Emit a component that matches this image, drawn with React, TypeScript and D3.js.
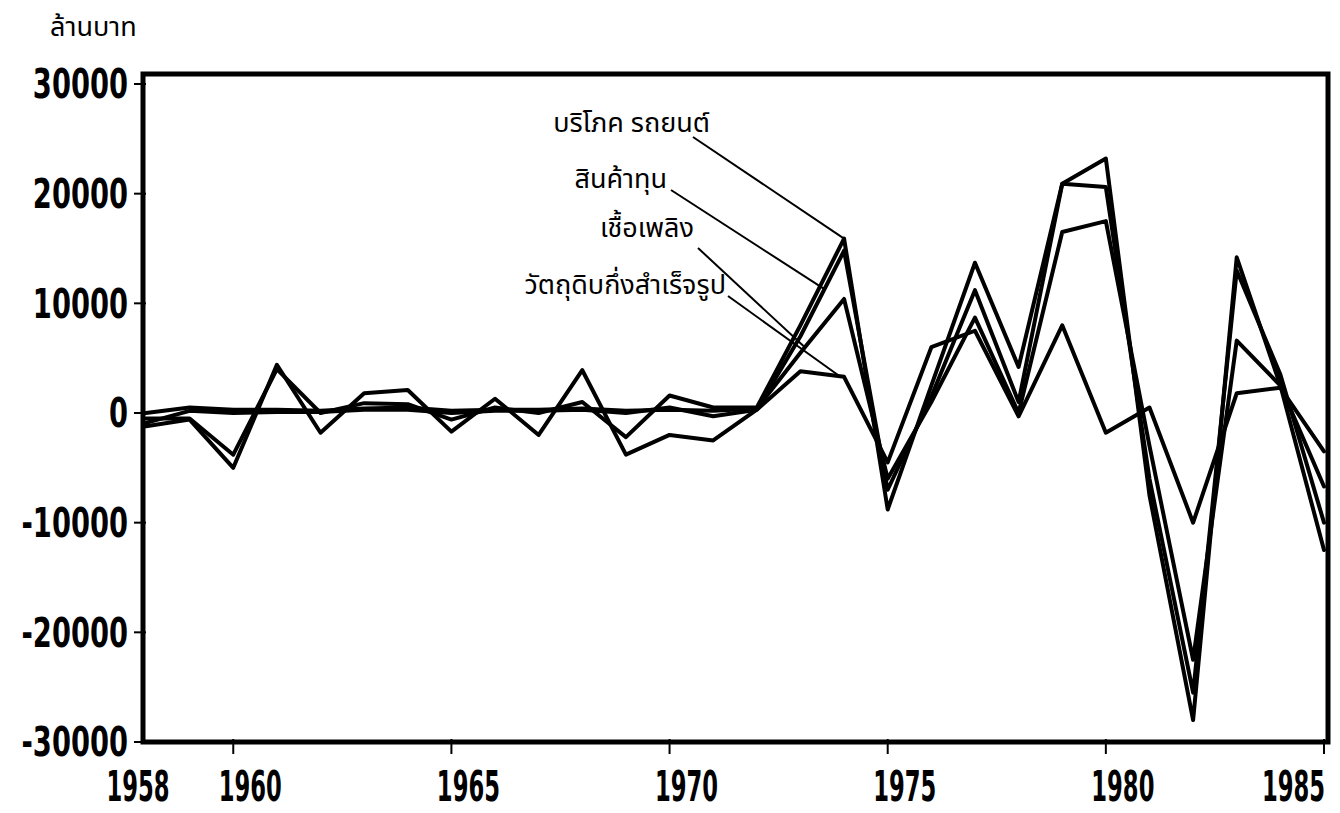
import React from "react";
import * as d3 from "d3";

const years = [1958, 1959, 1960, 1961, 1962, 1963, 1964, 1965, 1966, 1967, 1968, 1969, 1970, 1971, 1972, 1973, 1974, 1975, 1976, 1977, 1978, 1979, 1980, 1981, 1982, 1983, 1984, 1985];

const consumerCars = [-500, -500, -3800, 4000, 0, 900, 800, -600, 500, 0, 1000, -2200, 1600, 500, 500, 8000, 15900, -8800, 2500, 13700, 4200, 20900, 23200, -7500, -28000, 14200, 2500, -12500];
const capitalGoods = [-1200, -600, -5000, 4400, -1800, 1800, 2100, -1700, 1300, -2000, 3900, -3800, -2000, -2500, 300, 7000, 14800, -7000, 1500, 11200, 1000, 20900, 20600, -6000, -25500, 13000, 3500, -10000];
const fuel = [0, 500, 300, 300, 200, 400, 500, 200, 300, 300, 400, 200, 300, 200, 400, 5500, 10400, -6000, 1000, 8700, 0, 16500, 17500, -3000, -22500, 6600, 2500, -6700];
const rawMaterials = [-900, 200, 0, 100, 100, 300, 300, 0, 200, 200, 300, 0, 500, -300, 300, 3800, 3300, -4500, 6000, 7500, -300, 8000, -1800, 500, -10000, 1800, 2300, -3500];

const seriesNames = ["บริโภค รถยนต์", "สินค้าทุน", "เชื้อเพลิง", "วัตถุดิบกึ่งสำเร็จรูป"];
const seriesValues = [consumerCars, capitalGoods, fuel, rawMaterials];
// year on each series where its label's pointer line meets the curve
const pointerYears = [1974, 1973.55, 1973.1, 1973.9];

const yTicks = [30000, 20000, 10000, 0, -10000, -20000, -30000];
const xTicks = [1958, 1960, 1965, 1970, 1975, 1980, 1985];
const yUnit = "ล้านบาท";

const W = 1340;
const H = 813;

export default function App() {
  const x = d3.scaleLinear().domain([1958, 1985]).range([146, 1324]);
  const y = d3.scaleLinear().domain([-30000, 30000]).range([742, 84]);

  const frame = { left: 143, right: 1328, top: 74, bottom: 742 };

  const line = d3
    .line<number>()
    .x((_, i) => x(years[i]))
    .y((v) => y(v));

  const interp = (vals: number[], yr: number) => {
    const i = Math.min(Math.floor(yr - years[0]), years.length - 2);
    const t = yr - years[i];
    return vals[i] + (vals[i + 1] - vals[i]) * t;
  };

  // annotation layout: label anchor (end x, baseline y) and pointer start
  const labelLayout = [
    { tx: 710, ty: 132, px: 693, py: 137 },
    { tx: 667, ty: 188, px: 671, py: 190 },
    { tx: 694, ty: 237, px: 698, py: 248 },
    { tx: 726, ty: 294, px: 728, py: 296 },
  ];

  const numFont = "'DejaVu Sans Condensed', 'Liberation Sans Narrow', 'DejaVu Sans', sans-serif";
  const thaiFont = "'Noto Sans Thai', 'Noto Sans Thai Looped', 'Loma', 'Garuda', 'Norasi', 'DejaVu Sans', sans-serif";

  return (
    <svg
      width={W}
      height={H}
      viewBox={`0 0 ${W} ${H}`}
      style={{ position: "absolute", left: 0, top: 0, background: "#fff" }}
    >
      <rect x={0} y={0} width={W} height={H} fill="#fff" />

      {/* unit title */}
      <text x={50} y={36} fontFamily={thaiFont} fontSize={27} fill="#000">
        {yUnit}
      </text>

      {/* series */}
      {seriesValues.map((vals, k) => (
        <path
          key={k}
          d={line(vals) || ""}
          fill="none"
          stroke="#000"
          strokeWidth={4}
          strokeLinejoin="round"
          strokeLinecap="round"
        />
      ))}

      {/* frame */}
      <rect
        x={frame.left}
        y={frame.top}
        width={frame.right - frame.left}
        height={frame.bottom - frame.top}
        fill="none"
        stroke="#000"
        strokeWidth={5}
      />

      {/* y ticks and labels */}
      {yTicks.map((t) => (
        <g key={t}>
          <line x1={frame.left - 9} x2={frame.left + 3} y1={y(t)} y2={y(t)} stroke="#000" strokeWidth={2} />
          <g transform={`translate(128,${y(t)}) scale(0.76,1)`}>
            <text
              x={0}
              y={0}
              dy="0.36em"
              textAnchor="end"
              fontFamily={numFont}
              fontWeight="bold"
              fontSize={40}
              fill="#000"
            >
              {String(t)}
            </text>
          </g>
        </g>
      ))}

      {/* x ticks and labels */}
      {xTicks.map((t) => {
        const last = t === 1985;
        const dx = t === 1958 ? -8 : last ? 1 : 17;
        return (
          <g key={t}>
            {t !== 1958 && (
              <line x1={x(t)} x2={x(t)} y1={frame.bottom - 3} y2={frame.bottom + 12} stroke="#000" strokeWidth={2} />
            )}
            <g transform={`translate(${x(t) + dx},801) scale(0.6,1)`}>
              <text
                x={0}
                y={0}
                textAnchor={last ? "end" : "middle"}
                fontFamily={numFont}
                fontWeight="bold"
                fontSize={42}
                fill="#000"
              >
                {t}
              </text>
            </g>
          </g>
        );
      })}

      {/* series labels with pointer lines */}
      {seriesNames.map((name, k) => {
        const L = labelLayout[k];
        const yr = pointerYears[k];
        return (
          <g key={name}>
            <text x={L.tx} y={L.ty} textAnchor="end" fontFamily={thaiFont} fontSize={27} fill="#000">
              {name}
            </text>
            <line
              x1={L.px}
              y1={L.py}
              x2={x(yr)}
              y2={y(interp(seriesValues[k], yr))}
              stroke="#000"
              strokeWidth={2}
            />
          </g>
        );
      })}
    </svg>
  );
}
